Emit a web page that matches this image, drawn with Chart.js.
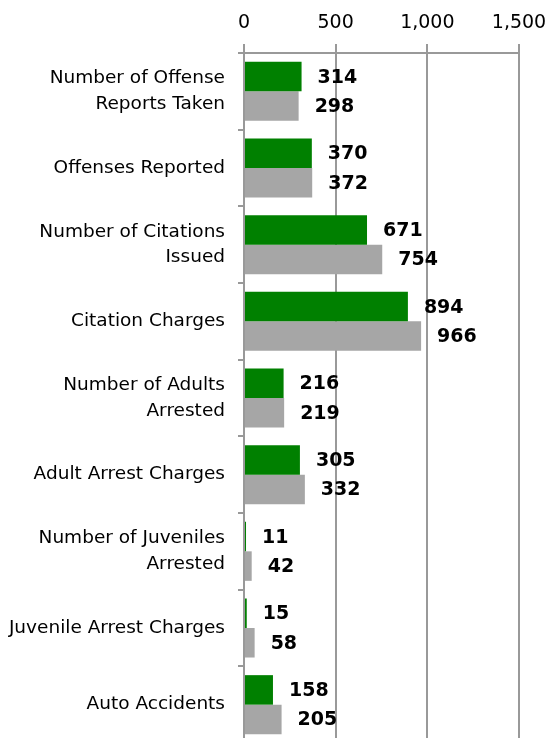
<!DOCTYPE html>
<html>
<head>
<meta charset="utf-8">
<script src="https://cdn.jsdelivr.net/npm/chart.js@4/dist/chart.umd.min.js"></script>
<style>
  body { margin: 0; background: #fff; }
  #wrap { width: 548px; height: 738px; overflow: hidden; }
</style>
</head>
<body>
<div id="wrap"><canvas id="myChart" width="548" height="745"></canvas></div>
<script>
// categories, top to bottom
let categories = [
  ['Number of Offense', 'Reports Taken'],
  'Offenses Reported',
  ['Number of Citations', 'Issued'],
  'Citation Charges',
  ['Number of Adults', 'Arrested'],
  'Adult Arrest Charges',
  ['Number of Juveniles', 'Arrested'],
  'Juvenile Arrest Charges',
  'Auto Accidents'
]
let greenValues = [314, 370, 671, 894, 216, 305, 11, 15, 158]
let grayValues = [298, 372, 754, 966, 219, 332, 42, 58, 205]
let axisTicks = [0, 500, 1000, 1500]

let font = 'DejaVu Sans'

// draw the value next to each bar end
let valueLabels = {
  id: 'valueLabels',
  afterDatasetsDraw(chart) {
    let ctx = chart.ctx
    ctx.save()
    ctx.font = 'bold 19px "' + font + '"'
    ctx.fillStyle = '#000'
    ctx.textAlign = 'left'
    ctx.textBaseline = 'middle'
    chart.data.datasets.forEach((ds, i) => {
      chart.getDatasetMeta(i).data.forEach((bar, j) => {
        ctx.fillText(ds.data[j], bar.x + 16, bar.y + 1)
      })
    })
    ctx.restore()
  }
}

// keep the axes from reserving room for overflowing labels
function noPadding(scale) {
  scale.paddingLeft = 0
  scale.paddingRight = 0
  scale.paddingTop = 0
  scale.paddingBottom = 0
}

let ctx = document.getElementById('myChart').getContext('2d')
new Chart(ctx, {
  type: 'bar',
  data: {
    labels: categories,
    datasets: [{
      label: 'Current',
      data: greenValues,
      backgroundColor: '#008000',
      categoryPercentage: 0.77,
      barPercentage: 1
    }, {
      label: 'Previous',
      data: grayValues,
      backgroundColor: '#a6a6a6',
      categoryPercentage: 0.77,
      barPercentage: 1
    }]
  },
  options: {
    indexAxis: 'y',
    responsive: false,
    animation: false,
    devicePixelRatio: 1,
    layout: { padding: { left: 0, right: 29, top: 0, bottom: 2 } },
    plugins: {
      legend: { display: false },
      tooltip: { enabled: false }
    },
    scales: {
      x: {
        position: 'top',
        min: 0,
        max: 1500,
        afterBuildTicks: (scale) => { scale.ticks = axisTicks.map(v => ({ value: v })) },
        afterFit: (scale) => { scale.height = 53; noPadding(scale) },
        ticks: {
          color: '#000',
          font: { family: font, size: 19 },
          padding: 10,
          maxRotation: 0,
          callback: (v) => v.toLocaleString('en-US')
        },
        grid: { color: '#999', lineWidth: 2, tickLength: 9 },
        border: { color: '#999', width: 2 }
      },
      y: {
        afterFit: (scale) => { scale.width = 244; noPadding(scale) },
        ticks: {
          color: '#000',
          font: { family: font, size: 18.5, lineHeight: 1.4 },
          padding: 13
        },
        grid: { drawOnChartArea: false, color: '#999', lineWidth: 2, tickLength: 6 },
        border: { color: '#999', width: 2 }
      }
    }
  },
  plugins: [valueLabels]
})
</script>
</body>
</html>
